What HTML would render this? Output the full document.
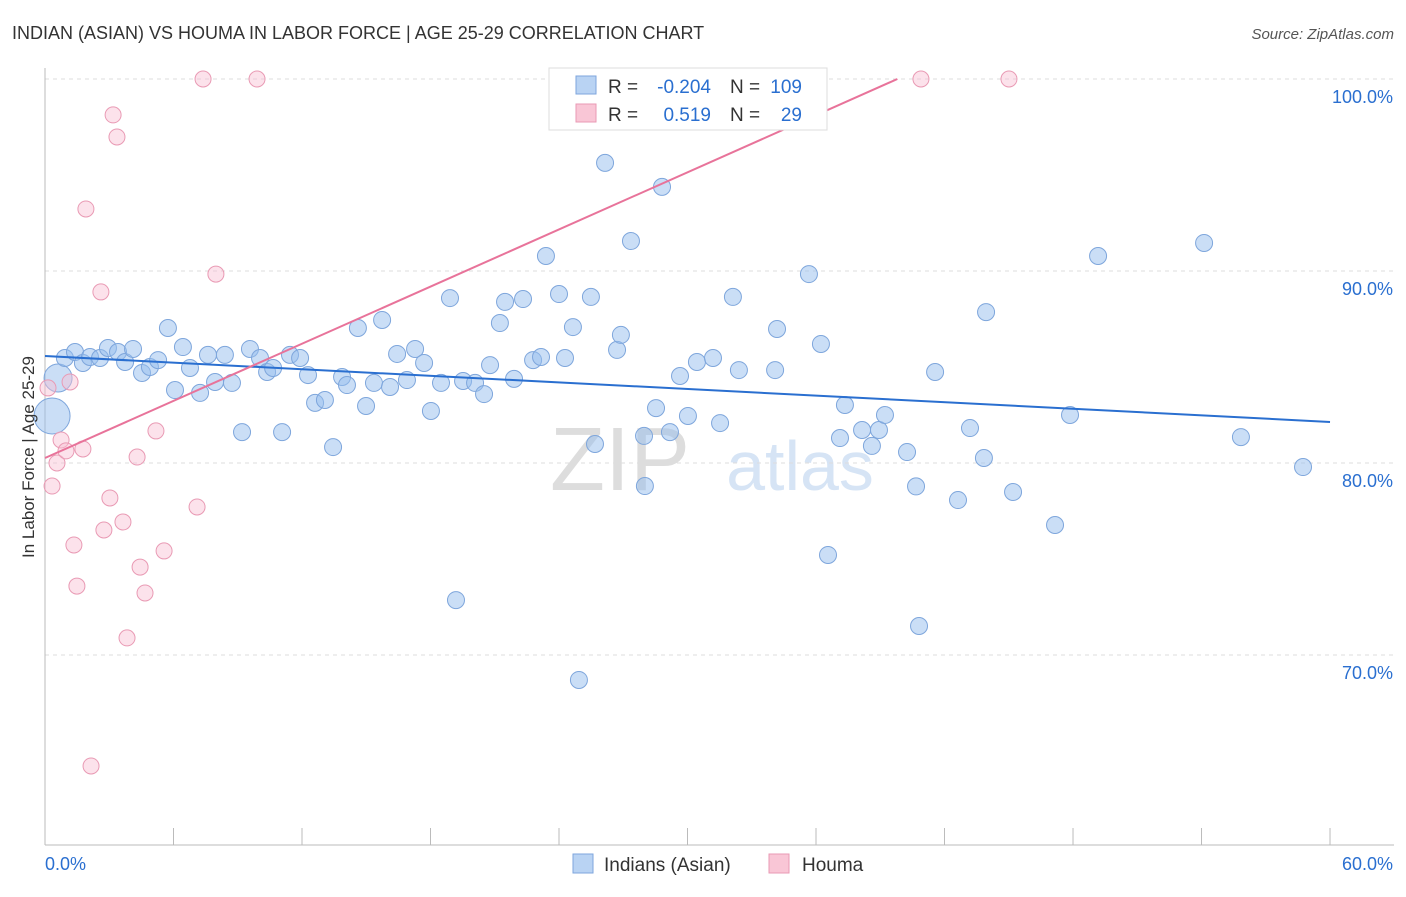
<!DOCTYPE html>
<html><head><meta charset="utf-8"><style>
body{margin:0;background:#fff;font-family:"Liberation Sans",sans-serif;}
svg text{font-family:"Liberation Sans",sans-serif;}
</style></head><body>
<svg id="chart" width="1406" height="892">
<text x="12" y="39" font-size="18" fill="#333">INDIAN (ASIAN) VS HOUMA IN LABOR FORCE | AGE 25-29 CORRELATION CHART</text>
<text x="1394" y="39" font-size="15" fill="#555" font-style="italic" text-anchor="end">Source: ZipAtlas.com</text>
<text x="620" y="490" font-size="90" fill="#ddd" font-family="Liberation Serif" text-anchor="middle">ZIP</text>
<text x="800" y="490" font-size="70" fill="#d6e4f5" text-anchor="middle">atlas</text>
<g id="grid"></g><g id="axes"></g><g id="pts"></g><g id="trend"></g>
<text transform="translate(34,457) rotate(-90)" font-size="17" fill="#333" text-anchor="middle">In Labor Force | Age 25-29</text>
<g>
<rect x="549" y="68" width="278" height="62" fill="#fff" stroke="#ddd"/>
<rect x="576" y="76" width="20" height="18" fill="#b9d3f3" stroke="#7ea6dc"/>
<rect x="576" y="104" width="20" height="18" fill="#f9c6d6" stroke="#e99ab4"/>
<text x="608" y="93" font-size="19" fill="#333">R =</text>
<text x="711" y="93" font-size="19" fill="#2a6fd0" text-anchor="end">-0.204</text>
<text x="730" y="93" font-size="19" fill="#333">N =</text>
<text x="802" y="93" font-size="19" fill="#2a6fd0" text-anchor="end">109</text>
<text x="608" y="121" font-size="19" fill="#333">R =</text>
<text x="711" y="121" font-size="19" fill="#2a6fd0" text-anchor="end">0.519</text>
<text x="730" y="121" font-size="19" fill="#333">N =</text>
<text x="802" y="121" font-size="19" fill="#2a6fd0" text-anchor="end">29</text>
</g>
<g>
<rect x="573" y="854" width="20" height="19" fill="#b9d3f3" stroke="#7ea6dc"/>
<text x="604" y="871" font-size="19" fill="#333">Indians (Asian)</text>
<rect x="769" y="854" width="20" height="19" fill="#f9c6d6" stroke="#e99ab4"/>
<text x="802" y="871" font-size="19" fill="#333">Houma</text>
</g>
</svg>
<script>
const blueX=[0.33,0.61,0.93,1.40,1.77,2.10,2.57,2.94,3.41,3.74,4.11,4.53,4.90,5.28,5.74,6.07,6.44,6.77,7.24,7.61,7.94,8.40,8.73,9.20,9.57,10.04,10.37,10.65,11.07,11.44,11.91,12.28,12.61,13.07,13.45,13.87,14.10,14.61,14.99,15.36,15.74,16.11,16.44,16.90,17.28,17.70,18.02,18.49,18.91,19.19,19.52,20.08,20.50,20.78,21.24,21.48,21.90,22.32,22.79,23.16,23.39,24.00,24.28,24.65,24.93,25.49,25.68,26.15,26.71,26.89,27.36,27.97,28.01,28.53,28.81,29.18,29.65,30.02,30.44,31.19,31.52,32.12,32.40,34.09,34.18,35.67,36.23,36.56,37.12,37.35,38.15,38.61,38.94,39.22,40.25,40.67,40.81,41.56,42.63,43.19,43.84,43.94,45.20,47.16,47.86,49.17,54.12,55.84,58.74];
const blueY=[82.45,84.43,85.47,85.78,85.21,85.52,85.47,85.99,85.78,85.26,85.94,84.69,85.0,85.36,87.03,83.80,86.04,84.95,83.65,85.63,84.22,85.63,84.17,81.61,85.94,85.47,84.74,84.95,81.61,85.63,85.47,84.58,83.13,83.28,80.83,84.48,84.06,87.03,82.97,84.17,87.45,83.96,85.68,84.32,85.94,85.21,82.71,84.17,88.59,72.86,84.27,84.17,83.59,85.10,87.29,88.39,84.38,88.54,85.36,85.52,90.78,88.80,85.47,87.08,68.70,88.65,80.99,95.63,85.89,86.67,91.56,81.41,78.80,82.86,94.38,81.61,84.53,82.45,85.26,85.47,82.08,88.65,84.84,84.84,86.98,89.84,86.20,75.21,81.30,83.02,81.72,80.89,81.72,82.50,80.57,78.78,71.51,84.74,78.07,81.82,80.26,87.86,78.49,76.77,82.50,90.78,91.46,81.35,79.79];
const pinkX=[0.14,0.33,0.56,0.75,0.98,1.17,1.35,1.49,1.77,1.91,2.61,2.75,3.03,3.18,3.36,3.64,3.83,4.30,4.44,4.67,5.18,5.56,7.10,7.38,7.98,9.90,2.15,40.90,45.01];
const pinkY=[83.91,78.80,80.0,81.20,80.63,84.22,75.73,73.59,80.73,93.23,88.91,76.51,78.18,98.13,96.98,76.93,70.89,80.31,74.58,73.23,81.67,75.42,77.71,100,89.84,100,64.22,100,100];
const blueTrend=[85.57,-0.0572];
const pinkTrend=[80.26,0.496];
const yTicks=[70,80,90,100];
const xTickLabels=["0.0%","60.0%"];
const NS="http://www.w3.org/2000/svg";
const sx=v=>45+v*21.417, sy=v=>79+(100-v)*19.2;
function mk(tag,attrs,parent){const e=document.createElementNS(NS,tag);for(const k in attrs)e.setAttribute(k,attrs[k]);document.getElementById(parent).appendChild(e);return e;}
yTicks.forEach(t=>{
 const l=mk('line',{x1:45,x2:1394,y1:sy(t),y2:sy(t),stroke:'#ddd','stroke-dasharray':'4,4'},'grid');
 
 
 const tx=mk('text',{x:1393,y:sy(t)+24,'font-size':18,fill:'#2a6fd0','text-anchor':'end'},'grid');tx.textContent=t.toFixed(1)+'%';
 
 
});
mk('line',{x1:45,x2:45,y1:68,y2:845,stroke:'#bbb'},'axes');
mk('line',{x1:45,x2:1394,y1:845,y2:845,stroke:'#bbb'},'axes');
for(let i=0;i<=10;i++){mk('line',{x1:sx(i*6),x2:sx(i*6),y1:828,y2:845,stroke:'#bbb'},'axes');}
const xl0=mk('text',{x:45,y:870,'font-size':18,fill:'#2a6fd0'},'axes');xl0.textContent=xTickLabels[0];


const xl1=mk('text',{x:1393,y:870,'font-size':18,fill:'#2a6fd0','text-anchor':'end'},'axes');xl1.textContent=xTickLabels[1];


blueX.forEach((x,i)=>{const r=i==0?18:(i==1?14:8.5);
 const c=mk('circle',{cx:sx(x),cy:sy(blueY[i]),r:r,fill:'rgba(150,190,238,0.5)',stroke:'#7ea6dc','stroke-width':1},'pts');
 
 });
pinkX.forEach((x,i)=>{
 const c=mk('circle',{cx:sx(x),cy:sy(pinkY[i]),r:8,fill:'rgba(248,190,210,0.45)',stroke:'#e99ab4','stroke-width':1},'pts');
 
 });
const bt=mk('line',{x1:sx(0),y1:sy(blueTrend[0]),x2:sx(60),y2:sy(blueTrend[0]+60*blueTrend[1]),stroke:'#2a6fd0','stroke-width':2},'trend');


const xe=(100-pinkTrend[0])/pinkTrend[1];
const pt=mk('line',{x1:sx(0),y1:sy(pinkTrend[0]),x2:sx(xe),y2:sy(100),stroke:'#e8739a','stroke-width':2},'trend');


</script>
</body></html>
